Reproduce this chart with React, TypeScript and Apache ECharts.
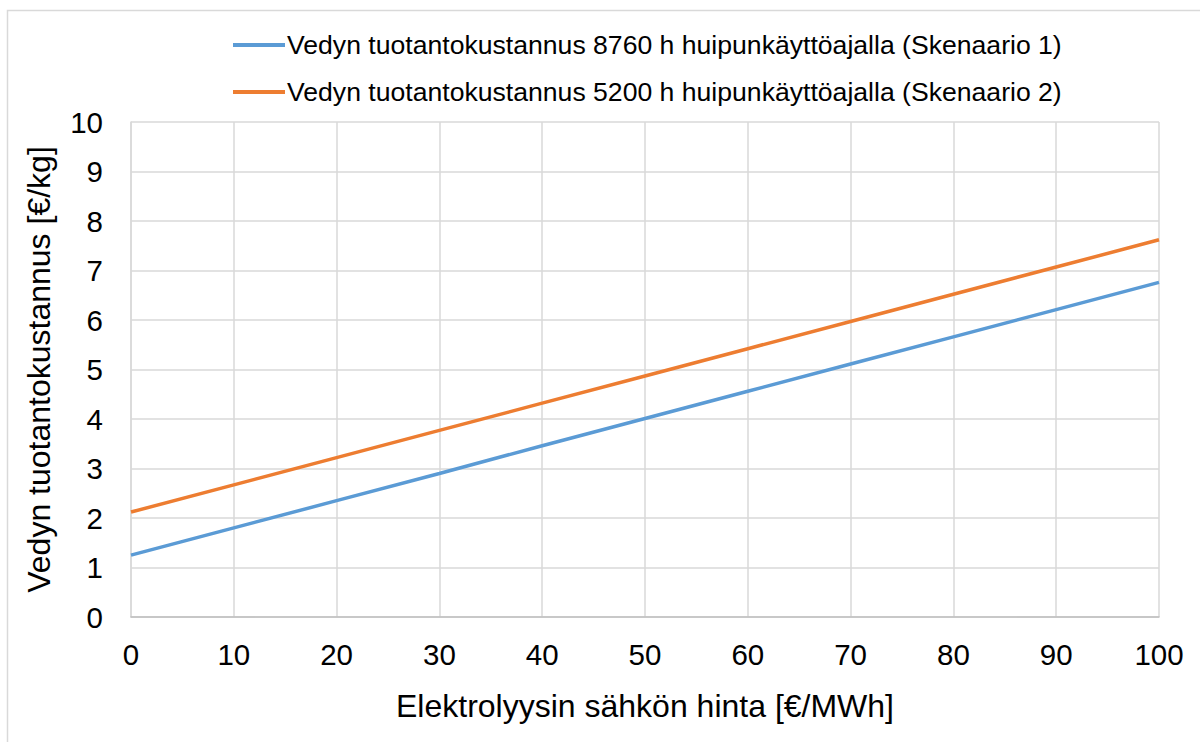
import React, { useEffect, useRef } from "react";
import * as echarts from "echarts";

const priceEurMWh = [0, 10, 20, 30, 40, 50, 60, 70, 80, 90, 100];
const costScenario1 = [1.25, 1.8, 2.35, 2.9, 3.46, 4.01, 4.56, 5.11, 5.66, 6.21, 6.76];
const costScenario2 = [2.12, 2.67, 3.22, 3.77, 4.32, 4.87, 5.42, 5.97, 6.52, 7.07, 7.62];
const seriesNames = [
  "Vedyn tuotantokustannus 8760 h huipunkäyttöajalla (Skenaario 1)",
  "Vedyn tuotantokustannus 5200 h huipunkäyttöajalla (Skenaario 2)",
];
const xAxisTitle = "Elektrolyysin sähkön hinta [€/MWh]";
const yAxisTitle = "Vedyn tuotantokustannus [€/kg]";

export default function App() {
  const ref = useRef<HTMLDivElement>(null);
  useEffect(() => {
    if (!ref.current) return;
    const chart = echarts.init(ref.current, null, { renderer: "svg" });
    const font = "'Liberation Sans', Arial, sans-serif";
    const grey = "#d9d9d9";
    chart.setOption({
      animation: false,
      backgroundColor: "#ffffff",
      textStyle: { fontFamily: font },
      graphic: [
        {
          type: "rect",
          shape: { x: 7.5, y: 10.5, width: 1400, height: 900 },
          style: { fill: "none", stroke: grey, lineWidth: 1.5 },
          silent: true,
        },
      ],
      legend: {
        orient: "vertical",
        left: 228,
        top: 25,
        itemWidth: 52,
        itemHeight: 4,
        itemGap: 17,
        icon: "rect",
        textStyle: { fontFamily: font, fontSize: 26.6, color: "#000", lineHeight: 30, padding: [0, 0, 0, -3] },
        data: seriesNames,
      },
      grid: { left: 131, right: 41, top: 122, bottom: 125, containLabel: false },
      xAxis: {
        type: "value",
        min: 0,
        max: 100,
        interval: 10,
        name: xAxisTitle,
        nameLocation: "middle",
        nameGap: 73,
        nameTextStyle: { fontFamily: font, fontSize: 32, color: "#000" },
        axisLine: { show: true, lineStyle: { color: "#bfbfbf", width: 1.5 } },
        axisTick: { show: false },
        axisLabel: { fontFamily: font, fontSize: 29.5, color: "#000", margin: 22 },
        splitLine: { show: true, lineStyle: { color: grey, width: 1.5 } },
      },
      yAxis: {
        type: "value",
        min: 0,
        max: 10,
        interval: 1,
        name: yAxisTitle,
        nameLocation: "middle",
        nameGap: 76,
        nameTextStyle: { fontFamily: font, fontSize: 32, color: "#000" },
        axisLine: { show: true, lineStyle: { color: grey, width: 1.5 } },
        axisTick: { show: false },
        axisLabel: { fontFamily: font, fontSize: 29.5, color: "#000", margin: 28 },
        splitLine: { show: true, lineStyle: { color: grey, width: 1.5 } },
      },
      series: [
        {
          name: seriesNames[0],
          type: "line",
          data: priceEurMWh.map((x, i) => [x, costScenario1[i]]),
          showSymbol: false,
          symbol: "none",
          lineStyle: { color: "#5b9bd5", width: 3.5 },
          itemStyle: { color: "#5b9bd5" },
        },
        {
          name: seriesNames[1],
          type: "line",
          data: priceEurMWh.map((x, i) => [x, costScenario2[i]]),
          showSymbol: false,
          symbol: "none",
          lineStyle: { color: "#ed7d31", width: 3.5 },
          itemStyle: { color: "#ed7d31" },
        },
      ],
    });
    return () => chart.dispose();
  }, []);
  return (
    <div
      ref={ref}
      style={{ position: "absolute", left: 0, top: 0, width: 1200, height: 742 }}
    />
  );
}
